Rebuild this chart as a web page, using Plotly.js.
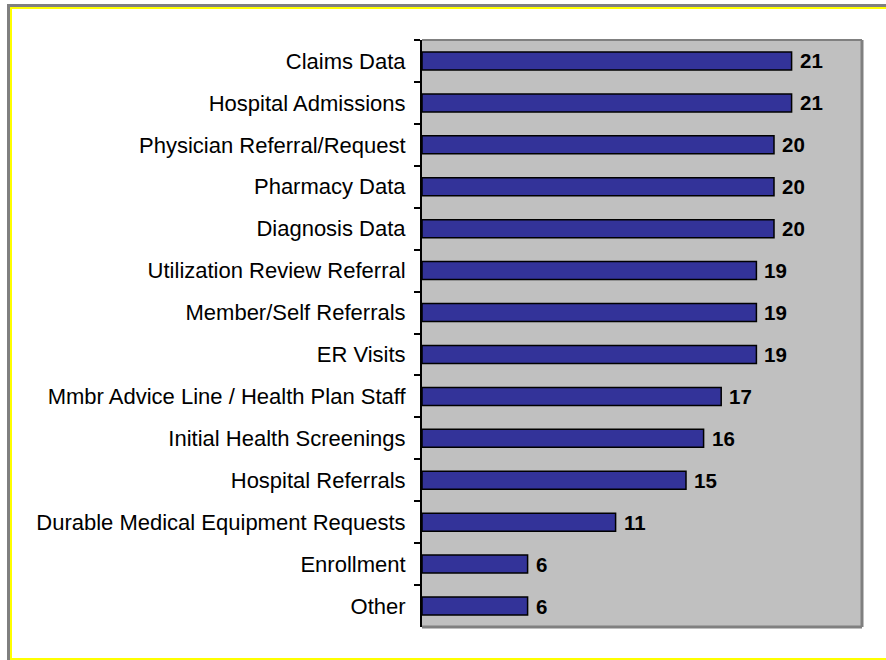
<!DOCTYPE html>
<html>
<head>
<meta charset="utf-8">
<script src="https://cdn.plot.ly/plotly-3.0.1.min.js"></script>
<style>
  html, body { margin: 0; padding: 0; background: #fff; width: 886px; height: 660px; overflow: hidden; }
  #frame { position: absolute; left: 7px; top: 4px; width: 900px; height: 660px;
           border-left: 3px solid #808080; border-top: 3px solid #808080; box-sizing: border-box; }
  #inner { position: absolute; left: 0; top: 0; width: 900px; height: 653px;
           border-left: 2px solid #ffff00; border-top: 2px solid #ffff00; border-bottom: 2px solid #ffff00; box-sizing: border-box; }
  #chart { position: absolute; left: 0; top: 0; width: 886px; height: 660px; }
</style>
</head>
<body>
<div id="frame"><div id="inner"></div></div>
<div id="chart"></div>
<script>
const categories = [
  "Claims Data",
  "Hospital Admissions",
  "Physician Referral/Request",
  "Pharmacy Data",
  "Diagnosis Data",
  "Utilization Review Referral",
  "Member/Self Referrals",
  "ER Visits",
  "Mmbr Advice Line / Health Plan Staff",
  "Initial Health Screenings",
  "Hospital Referrals",
  "Durable Medical Equipment Requests",
  "Enrollment",
  "Other"
];
const values = [21, 21, 20, 20, 20, 19, 19, 19, 17, 16, 15, 11, 6, 6];
const xRange = [0, 25];

const trace = {
  type: 'bar',
  orientation: 'h',
  x: values,
  y: categories,
  marker: { color: '#333399', line: { color: '#000000', width: 1.5 } },
  width: 0.43,
  hoverinfo: 'skip'
};

const annotations = categories.map((c, i) => ({
  x: values[i], y: c, xref: 'x', yref: 'y',
  text: '<b>' + values[i] + '</b>',
  showarrow: false, xanchor: 'left', yanchor: 'middle', xshift: 6,
  font: { family: 'Arial, Liberation Sans, sans-serif', size: 20.5, color: '#000' }
}));

const layout = {
  width: 886, height: 660,
  margin: { l: 422, r: 24, t: 40, b: 33, pad: 0 },
  paper_bgcolor: 'rgba(0,0,0,0)',
  plot_bgcolor: '#c0c0c0',
  showlegend: false,
  xaxis: { range: xRange, visible: false, fixedrange: true },
  yaxis: {
    type: 'category',
    autorange: 'reversed',
    showline: true, linecolor: '#000', linewidth: 2,
    ticks: 'outside', ticklen: 6, tickwidth: 2, tickcolor: '#000',
    tickson: 'boundaries',
    ticklabelstandoff: 10,
    showgrid: false, zeroline: false,
    tickfont: { family: 'Arial, Liberation Sans, sans-serif', size: 22, color: '#000' }
  },
  annotations: annotations,
  shapes: [
    { type: 'line', xref: 'paper', yref: 'paper', x0: 0, x1: 1, y0: 1, y1: 1, line: { color: '#808080', width: 2 } },
    { type: 'line', xref: 'paper', yref: 'paper', x0: 1, x1: 1, y0: 0, y1: 1, line: { color: '#808080', width: 3 } },
    { type: 'line', xref: 'paper', yref: 'paper', x0: 0, x1: 1, y0: 0, y1: 0, line: { color: '#808080', width: 3 } }
  ]
};

Plotly.newPlot('chart', [trace], layout, { displayModeBar: false, staticPlot: true });
</script>
</body>
</html>
